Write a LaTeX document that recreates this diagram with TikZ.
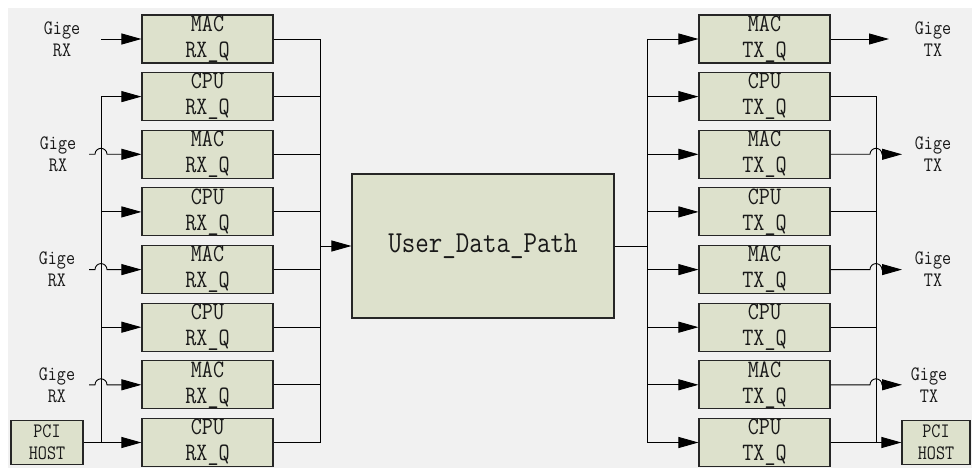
\documentclass[tikz,border=0pt]{standalone}
\usepackage{fontspec}
\newfontfamily\cnfont{Latin Modern Mono}[FakeStretch=0.86]
\usetikzlibrary{arrows.meta,calc}
\definecolor{qfill}{RGB}{221,225,204}
\definecolor{bggray}{RGB}{241,241,241}

\begin{document}
\begin{tikzpicture}[x=1pt,y=-1pt,
  queue/.style={draw=black!85, line width=1.1pt, fill=qfill, minimum width=131pt, minimum height=48pt, inner sep=0pt, align=center, text=black!90, font=\cnfont\fontsize{25}{26}\selectfont},
  host/.style={queue, minimum width=72pt, minimum height=44pt, font=\cnfont\fontsize{20.5}{22}\selectfont},
  port/.style={align=center, inner sep=0pt, text=black!90, font=\cnfont\fontsize{20.5}{22}\selectfont},
  wire/.style={line width=0.9pt},
  feed/.style={wire, -{Triangle[length=20pt,width=11pt]}}]

\useasboundingbox (0,0) rectangle (972,468);
\fill[white] (0,0) rectangle (972,468);
\fill[bggray] (8,8) rectangle (972,468);

% receive queues
\node[queue] (rq1) at (207.5,39) {MAC\\RX\_Q};
\node[queue] (rq2) at (207.5,96.6) {CPU\\RX\_Q};
\node[queue] (rq3) at (207.5,154.3) {MAC\\RX\_Q};
\node[queue] (rq4) at (207.5,211.9) {CPU\\RX\_Q};
\node[queue] (rq5) at (207.5,269.6) {MAC\\RX\_Q};
\node[queue] (rq6) at (207.5,327.2) {CPU\\RX\_Q};
\node[queue] (rq7) at (207.5,384.8) {MAC\\RX\_Q};
\node[queue] (rq8) at (207.5,442.5) {CPU\\RX\_Q};

% transmit queues
\node[queue] (tq1) at (764.5,39) {MAC\\TX\_Q};
\node[queue] (tq2) at (764.5,96.6) {CPU\\TX\_Q};
\node[queue] (tq3) at (764.5,154.3) {MAC\\TX\_Q};
\node[queue] (tq4) at (764.5,211.9) {CPU\\TX\_Q};
\node[queue] (tq5) at (764.5,269.6) {MAC\\TX\_Q};
\node[queue] (tq6) at (764.5,327.2) {CPU\\TX\_Q};
\node[queue] (tq7) at (764.5,384.8) {MAC\\TX\_Q};
\node[queue] (tq8) at (764.5,442.5) {CPU\\TX\_Q};

\node[queue, minimum width=262pt, minimum height=144pt, font=\cnfont\fontsize{30.5}{32}\selectfont] (udp) at (483,246) {User\_Data\_Path};

\node[host] (pcirx) at (47,442.5) {PCI\\HOST};
\node[host, minimum width=68pt] (pcitx) at (936,442.5) {PCI\\HOST};

\node[port] (gin1) at (62,39) {Gige\\RX};
\node[port] (gin3) at (58,154.3) {Gige\\RX};
\node[port] (gin5) at (57,269.6) {Gige\\RX};
\node[port] (gin7) at (57,384.8) {Gige\\RX};
\node[port] (gout1) at (933,39) {Gige\\TX};
\node[port] (gout3) at (933,154.3) {Gige\\TX};
\node[port] (gout5) at (933,269.6) {Gige\\TX};
\node[port] (gout7) at (929,384.8) {Gige\\TX};

\coordinate (lb) at (101,0);
\coordinate (lc) at (320.5,0);
\coordinate (rb) at (647.5,0);
\coordinate (rc) at (876,0);
\coordinate (in1) at (101,39);
\coordinate (in3) at (89,154.3);
\coordinate (in5) at (89,269.6);
\coordinate (in7) at (89,384.8);
\coordinate (out1) at (889,39);
\coordinate (out3) at (902,154.3);
\coordinate (out5) at (902,269.6);
\coordinate (out7) at (902,384.8);

% inputs
\draw[feed] (in1) -- (rq1);
\draw[feed] (in3) -- ++(6,0) arc[start angle=180, end angle=0, radius=6pt] -- (rq3);
\draw[feed] (in5) -- ++(6,0) arc[start angle=180, end angle=0, radius=6pt] -- (rq5);
\draw[feed] (in7) -- ++(6,0) arc[start angle=180, end angle=0, radius=6pt] -- (rq7);
\draw[wire] (lb |- rq2) -- (lb |- rq8);
\draw[feed] (lb |- rq2) -- (rq2);
\draw[feed] (lb |- rq4) -- (rq4);
\draw[feed] (lb |- rq6) -- (rq6);
\draw[feed] (pcirx) -- (rq8);

\draw[wire] (rq1) -- (lc |- rq1) -- (lc |- rq8) -- (rq8);
\draw[wire] (rq2) -- (lc |- rq2);
\draw[wire] (rq3) -- (lc |- rq3);
\draw[wire] (rq4) -- (lc |- rq4);
\draw[wire] (rq5) -- (lc |- rq5);
\draw[wire] (rq6) -- (lc |- rq6);
\draw[wire] (rq7) -- (lc |- rq7);
\draw[feed] (lc |- udp) -- (udp);

% outputs
\draw[wire] (udp) -- (rb |- udp);
\draw[wire] (rb |- tq1) -- (rb |- tq8);
\draw[feed] (rb |- tq1) -- (tq1);
\draw[feed] (rb |- tq2) -- (tq2);
\draw[feed] (rb |- tq3) -- (tq3);
\draw[feed] (rb |- tq4) -- (tq4);
\draw[feed] (rb |- tq5) -- (tq5);
\draw[feed] (rb |- tq6) -- (tq6);
\draw[feed] (rb |- tq7) -- (tq7);
\draw[feed] (rb |- tq8) -- (tq8);

\draw[feed] (tq1) -- (out1);
\draw[wire] (tq2) -- (rc |- tq2) -- (rc |- tq8);
\draw[wire] (tq4) -- (rc |- tq4);
\draw[wire] (tq6) -- (rc |- tq6);
\draw[feed] (tq8) -- (pcitx);
\draw[feed] (tq3) -- ($(rc |- tq3)+(-6,0)$) arc[start angle=180, end angle=0, radius=6pt] -- (out3);
\draw[feed] (tq5) -- ($(rc |- tq5)+(-6,0)$) arc[start angle=180, end angle=0, radius=6pt] -- (out5);
\draw[feed] (tq7) -- ($(rc |- tq7)+(-6,0)$) arc[start angle=180, end angle=0, radius=6pt] -- (out7);
\end{tikzpicture}
\end{document}
